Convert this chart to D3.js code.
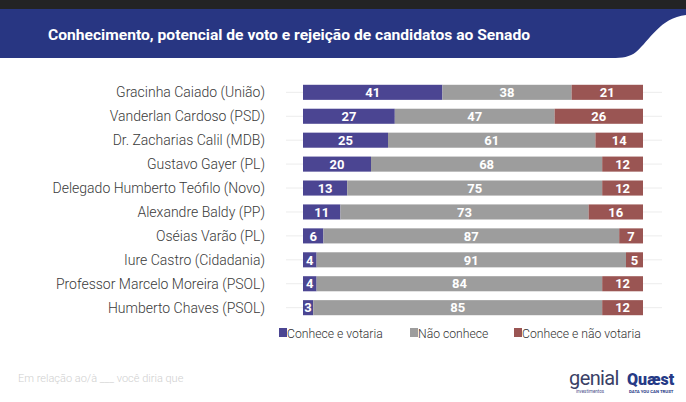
<!DOCTYPE html>
<html>
<head>
<meta charset="utf-8">
<script src="https://cdn.jsdelivr.net/npm/d3@7"></script>
<style>
  body { margin: 0; background: #fff; }
  svg { display: block; font-family: Roboto, "Noto Sans", sans-serif; }
</style>
</head>
<body>
<div id="chart"></div>
<script>
// candidatos e percentuais
var candidates = [
  "Gracinha Caiado (União)",
  "Vanderlan Cardoso (PSD)",
  "Dr. Zacharias Calil (MDB)",
  "Gustavo Gayer (PL)",
  "Delegado Humberto Teófilo (Novo)",
  "Alexandre Baldy (PP)",
  "Oséias Varão (PL)",
  "Iure Castro (Cidadania)",
  "Professor Marcelo Moreira (PSOL)",
  "Humberto Chaves (PSOL)"
];
var votaria = [41, 27, 25, 20, 13, 11, 6, 4, 4, 3];
var naoConhece = [38, 47, 61, 68, 75, 73, 87, 91, 84, 85];
var naoVotaria = [21, 26, 14, 12, 12, 16, 7, 5, 12, 12];
var seriesNames = ["Conhece e votaria", "Não conhece", "Conhece e não votaria"];
var colors = ["#4b4592", "#9d9d9d", "#9a5553"];

var width = 686, height = 402;

var svg = d3.select("#chart").append("svg")
    .attr("width", width)
    .attr("height", height);

// top dark band + header
svg.append("rect").attr("x", 0).attr("y", 0).attr("width", width).attr("height", 12).attr("fill", "#232325");
svg.append("path")
    .attr("d", "M0,9 L686,9 L686,15 C660,18 650,40 636,52 C630,57 622,58 612,58 L0,58 Z")
    .attr("fill", "#283682");
svg.append("text")
    .attr("x", 48).attr("y", 40)
    .attr("fill", "#fff")
    .attr("font-size", 14.5)
    .attr("font-weight", 700)
    .attr("textLength", 482)
    .attr("lengthAdjust", "spacingAndGlyphs")
    .text("Conhecimento, potencial de voto e rejeição de candidatos ao Senado");

// build stacked table
var table = candidates.map(function(c, i) {
  return { name: c, v0: votaria[i], v1: naoConhece[i], v2: naoVotaria[i] };
});
var stack = d3.stack().keys(["v0", "v1", "v2"]);
var layers = stack(table);

var x = d3.scaleLinear().domain([0, 100]).range([303, 643]);
var y = d3.scaleBand().domain(candidates).range([80, 320]).paddingInner(0.37).paddingOuter(0.2);

// faint gridlines
svg.append("g").selectAll("line")
    .data(candidates)
    .enter().append("line")
    .attr("x1", 286).attr("x2", 662)
    .attr("y1", function(d) { return y(d) + y.bandwidth() / 2; })
    .attr("y2", function(d) { return y(d) + y.bandwidth() / 2; })
    .attr("stroke", "#ececec")
    .attr("stroke-width", 1);

// labels
svg.append("g").selectAll("text")
    .data(candidates)
    .enter().append("text")
    .attr("x", 265)
    .attr("y", function(d) { return y(d) + y.bandwidth() / 2; })
    .attr("dy", "0.35em")
    .attr("text-anchor", "end")
    .attr("font-size", 14)
    .attr("font-weight", 300)
    .attr("fill", "#3a3a3a")
    .text(function(d) { return d; });

var groups = svg.append("g").selectAll("g")
    .data(layers)
    .enter().append("g")
    .attr("fill", function(d, i) { return colors[i]; });

groups.selectAll("rect")
    .data(function(d) { return d; })
    .enter().append("rect")
    .attr("x", function(d) { return x(d[0]); })
    .attr("y", function(d) { return y(d.data.name); })
    .attr("width", function(d) { return x(d[1]) - x(d[0]); })
    .attr("height", y.bandwidth());

groups.selectAll("text")
    .data(function(d) { return d; })
    .enter().append("text")
    .attr("x", function(d) { return (x(d[0]) + x(d[1])) / 2; })
    .attr("y", function(d) { return y(d.data.name) + y.bandwidth() / 2; })
    .attr("dy", "0.36em")
    .attr("text-anchor", "middle")
    .attr("fill", "#fff")
    .attr("font-size", 13)
    .attr("font-weight", 700)
    .text(function(d) { return d[1] - d[0]; });

// legend
var legendX = [279, 410, 514];
var legend = svg.append("g").selectAll("g")
    .data(seriesNames)
    .enter().append("g")
    .attr("transform", function(d, i) { return "translate(" + legendX[i] + ",328)"; });
legend.append("rect")
    .attr("width", 8).attr("height", 9)
    .attr("fill", function(d, i) { return colors[i]; });
legend.append("text")
    .attr("x", 8).attr("y", 9.5)
    .attr("font-size", 12.2)
    .attr("font-weight", 300)
    .attr("fill", "#333")
    .text(function(d) { return d; });

// footer
svg.append("text")
    .attr("x", 18).attr("y", 382)
    .attr("font-size", 11)
    .attr("font-weight", 300)
    .attr("fill", "#cfcfcf")
    .text("Em relação ao/à ___ você diria que");

// logos as text
svg.append("text")
    .attr("x", 569).attr("y", 385)
    .attr("font-size", 20)
    .attr("font-weight", 400)
    .attr("fill", "#3a3f66")
    .attr("letter-spacing", -0.6)
    .text("genial");
svg.append("text")
    .attr("x", 576).attr("y", 393)
    .attr("font-size", 4.5)
    .attr("fill", "#4a4f8a")
    .text("investimentos");
svg.append("text")
    .attr("x", 627).attr("y", 385)
    .attr("font-size", 16)
    .attr("font-weight", 900)
    .attr("fill", "#263a86")
    .text("Quæst");
svg.append("text")
    .attr("x", 629).attr("y", 393)
    .attr("font-size", 4.3)
    .attr("font-weight", 700)
    .attr("fill", "#263a86")
    .text("DATA YOU CAN TRUST");
</script>
</body>
</html>
